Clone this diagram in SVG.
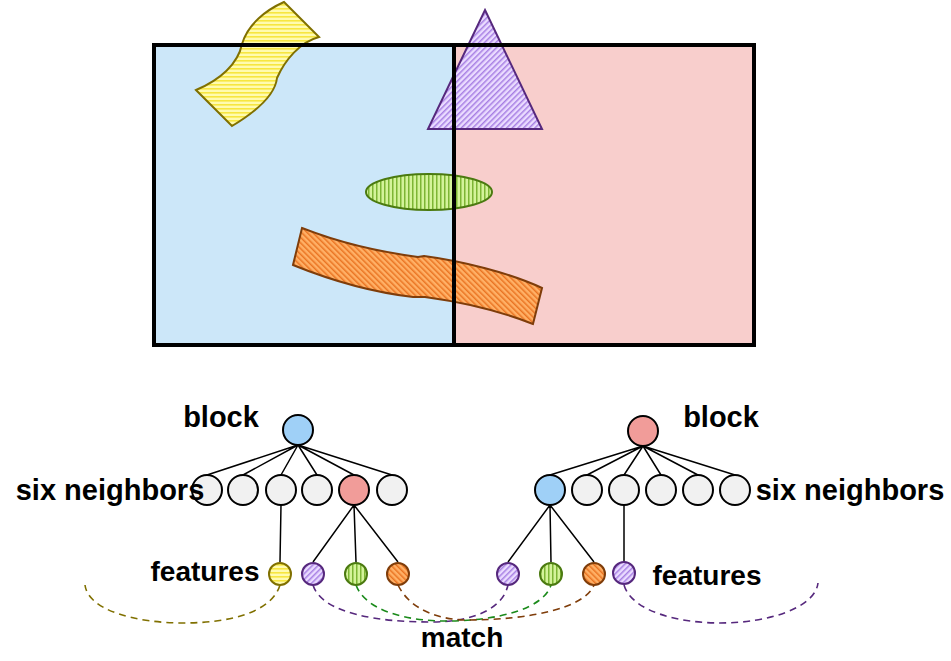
<svg xmlns="http://www.w3.org/2000/svg" width="951" height="661" viewBox="0 0 951 661">
<defs>
<pattern id="pY" patternUnits="userSpaceOnUse" width="6" height="4"><rect width="6" height="4" fill="#fffbb0"/><rect y="0" width="6" height="1.6" fill="#f7e640"/></pattern>
<pattern id="pP" patternUnits="userSpaceOnUse" width="4" height="4" patternTransform="rotate(45)"><rect width="4" height="4" fill="#eadbff"/><rect width="1.5" height="4" fill="#a77fe3"/></pattern>
<pattern id="pG" patternUnits="userSpaceOnUse" width="4" height="6"><rect width="4" height="6" fill="#d4f39a"/><rect width="1.5" height="6" fill="#7db534"/></pattern>
<pattern id="pO" patternUnits="userSpaceOnUse" width="4" height="4" patternTransform="rotate(-45)"><rect width="4" height="4" fill="#ffb066"/><rect width="1.5" height="4" fill="#ea7422"/></pattern>
<style>
.t{font-family:"Liberation Sans",Arial,sans-serif;font-weight:bold;font-size:29px;fill:#000}
.s{font-size:28px}
.n{stroke:#000;stroke-width:2}
.g{fill:#f1f1f1}
.e{stroke:#000;stroke-width:1.5;fill:none}
.d{fill:none;stroke-width:1.6;stroke-dasharray:7 5}
.fy{fill:url(#pY);stroke:#807000;stroke-width:2}
.fp{fill:url(#pP);stroke:#56287d;stroke-width:2}
.fg{fill:url(#pG);stroke:#4b7a10;stroke-width:2}
.fo{fill:url(#pO);stroke:#7f3d0a;stroke-width:2}
.b{fill:none;stroke:#000;stroke-width:4}
</style>
</defs>
<g id="blocks-fill">
<rect x="154" y="45" width="300" height="300" fill="#cce7f9"/>
<rect x="454" y="45" width="300" height="300" fill="#f8cecc"/>
</g>
<g id="shapes">
<path class="fy" d="M284,2 L319,37 C300,42 285,60 277,78 C275,96 252,114 232,126 L196,90 C220,80 238,64 242,44 C248,24 266,10 284,2 Z"/>
<path class="fp" d="M485,10 L542,129 L428,129 Z"/>
<ellipse class="fg" cx="429" cy="192" rx="63" ry="18"/>
<path class="fo" d="M302,228 C340,243 380,252 418,257 L424,256 C462,261 510,273 542,288 L533,324 C500,311 462,302 425,297 L413,297 C370,292 330,280 293,265 Z"/>
</g>
<g id="blocks">
<rect class="b" x="154" y="45" width="300" height="300"/>
<rect class="b" x="454" y="45" width="300" height="300"/>
</g>
<g id="connectors">
<path class="e" d="M298,445 L207,475 M298,445 L243,475 M298,445 L281,475 M298,445 L317,475 M298,445 L354,475 M298,445 L392,475"/>
<path class="e" d="M281,505 L280,562 M354,505 L313,562 M354,505 L356,562 M354,505 L398,562"/>
<path class="e" d="M643,446 L550,475 M643,446 L587,475 M643,446 L624,475 M643,446 L661,475 M643,446 L698,475 M643,446 L735,475"/>
<path class="e" d="M550,505 L508,562 M550,505 L551,562 M550,505 L594,562 M624,505 L624,562"/>
<path class="d" stroke="#807000" d="M280,585 C272,612 230,623 183,623 C135,623 88,610 85,585"/>
<path class="d" stroke="#56287d" d="M313,585 C322,614 380,622 430,622 C475,622 503,608 508,585"/>
<path class="d" stroke="#1a8a1a" d="M356,585 C366,612 410,621 445,621 C500,621 544,608 551,585"/>
<path class="d" stroke="#7f3d0a" d="M398,585 C410,610 440,620 467,620 C530,620 585,608 594,585"/>
<path class="d" stroke="#56287d" d="M624,585 C632,612 680,623 720,623 C768,623 815,608 818,583"/>
</g>
<g id="left-block"><circle class="n" cx="298" cy="430" r="15" fill="#9fd0f7"/></g>
<g id="left-neighbors">
<circle class="n g" cx="207" cy="490" r="15"/>
<circle class="n g" cx="243" cy="490" r="15"/>
<circle class="n g" cx="281" cy="490" r="15"/>
<circle class="n g" cx="317" cy="490" r="15"/>
<circle class="n" cx="354" cy="490" r="15" fill="#f19c99"/>
<circle class="n g" cx="392" cy="490" r="15"/>
</g>
<g id="left-features">
<circle class="fy" cx="280" cy="574" r="11"/>
<circle class="fp" cx="313" cy="574" r="11"/>
<circle class="fg" cx="356" cy="574" r="11"/>
<circle class="fo" cx="398" cy="574" r="11"/>
</g>
<g id="right-block"><circle class="n" cx="643" cy="431" r="15" fill="#f19c99"/></g>
<g id="right-neighbors">
<circle class="n" cx="550" cy="490" r="15" fill="#9fd0f7"/>
<circle class="n g" cx="587" cy="490" r="15"/>
<circle class="n g" cx="624" cy="490" r="15"/>
<circle class="n g" cx="661" cy="490" r="15"/>
<circle class="n g" cx="698" cy="490" r="15"/>
<circle class="n g" cx="735" cy="490" r="15"/>
</g>
<g id="right-features">
<circle class="fp" cx="508" cy="574" r="11"/>
<circle class="fg" cx="551" cy="574" r="11"/>
<circle class="fo" cx="594" cy="574" r="11"/>
<circle class="fp" cx="624" cy="573" r="11"/>
</g>
<g id="labels">
<text class="t" x="221" y="427" text-anchor="middle">block</text>
<text class="t" x="721" y="427" text-anchor="middle">block</text>
<text class="t" x="110" y="500" text-anchor="middle">six neighbors</text>
<text class="t" x="850" y="500" text-anchor="middle">six neighbors</text>
<text class="t s" x="205" y="581" text-anchor="middle">features</text>
<text class="t s" x="707" y="585" text-anchor="middle">features</text>
<text class="t s" x="462" y="647" text-anchor="middle">match</text>
</g>
</svg>
